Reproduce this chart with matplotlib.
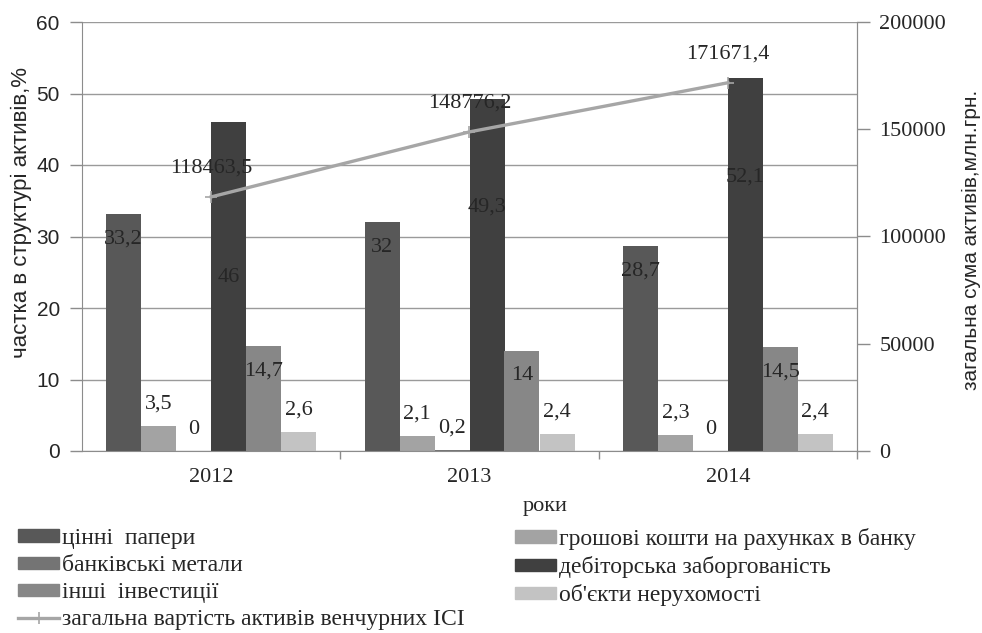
import matplotlib
matplotlib.use("Agg")
import matplotlib.pyplot as plt
import numpy as np
from matplotlib.patches import Patch
from matplotlib.lines import Line2D

years = ["2012", "2013", "2014"]
series_names = ["цінні  папери", "грошові кошти на рахунках в банку", "банківські метали",
                "дебіторська заборгованість", "інші  інвестиції", "об'єкти нерухомості"]
securities = [33.2, 32, 28.7]
cash = [3.5, 2.1, 2.3]
metals = [0, 0.2, 0]
receivables = [46, 49.3, 52.1]
other_inv = [14.7, 14, 14.5]
real_estate = [2.6, 2.4, 2.4]
total_assets = [118463.5, 148776.2, 171671.4]
line_name = "загальна вартість активів венчурних ІСІ"
left_ticks = [0, 10, 20, 30, 40, 50, 60]
right_ticks = [0, 50000, 100000, 150000, 200000]

def fmt(v):
    s = ("%g" % v) if v != int(v) else str(int(v))
    return s.replace(".", ",")

series = [securities, cash, metals, receivables, other_inv, real_estate]
colors = ["#585858", "#a3a3a3", "#747474", "#404040", "#878787", "#c3c3c3"]

SERIF = "Liberation Serif"
SANS = "Liberation Sans"
TXT = "#262626"

fig = plt.figure(figsize=(9.82, 6.33), dpi=100)
W, H = 982, 633
L, R, T, B = 82, 857, 22, 451
ax = fig.add_axes([L / W, 1 - B / H, (R - L) / W, (B - T) / H])
ax2 = ax.twinx()

x = np.arange(len(years))
bw = 35 / ((R - L) / 3)
for i, (vals, c) in enumerate(zip(series, colors)):
    offs = (i - 2.5) * bw
    ax.bar(x + offs, vals, width=bw, color=c, zorder=2, linewidth=0)

# data labels (pixel offsets from bar top)
for i, vals in enumerate(series):
    offs = (i - 2.5) * bw
    for j, v in enumerate(vals):
        if i == 3:
            dy = [-155, -109, -99][j]
        elif v > 10:
            dy = -25
        else:
            dy = 22
        ax.annotate(fmt(v), (x[j] + offs, v), xytext=(0, dy), textcoords="offset pixels",
                    ha="center", va="center", fontsize=16, family=SERIF, color=TXT, zorder=5)

ax.set_xlim(-0.5, 2.5)
ax.set_ylim(0, 60)
ax.set_yticks(left_ticks)
ax.set_yticklabels([str(t) for t in left_ticks], family=SANS, fontsize=15, color=TXT)
ax.set_xticks(x)
ax.set_xticklabels(years, family=SERIF, fontsize=16, color=TXT)
ax.set_xticks([0.5, 1.5, 2.5], minor=True)
ax.tick_params(axis="x", which="major", length=0, pad=12)
ax.tick_params(axis="x", which="minor", length=6, width=1, color="#8c8c8c", direction="out")
ax.tick_params(axis="y", length=9, width=1, color="#8c8c8c", pad=7)
ax.grid(axis="y", color="#9a9a9a", linewidth=1, zorder=0)
ax.set_axisbelow(True)
ax.spines["top"].set_visible(False)
for s in ["left", "bottom", "right"]:
    ax.spines[s].set_color("#8c8c8c")

ax2.plot(x, total_assets, color="#a6a6a6", linewidth=2.4, marker="+", markersize=9,
         markeredgewidth=1.2, zorder=4)
for j, v in enumerate(total_assets):
    ax2.annotate(("%.1f" % v).replace(".", ","), (x[j], v), xytext=(0, 29), textcoords="offset pixels",
                 ha="center", va="center", fontsize=16, family=SERIF, color=TXT)
ax2.set_ylim(0, 200000)
ax2.set_yticks(right_ticks)
ax2.set_yticklabels([str(t) for t in right_ticks], family=SERIF, fontsize=16, color=TXT)
ax2.tick_params(axis="y", length=9, width=1, color="#8c8c8c", pad=7)
for s in ["top", "left", "bottom"]:
    ax2.spines[s].set_visible(False)
ax2.spines["right"].set_color("#8c8c8c")

fig.text(21 / W, 1 - 213 / H, "частка в структурі активів,%", rotation=90, ha="center", va="center",
         family=SANS, fontsize=16, color=TXT)
fig.text(971 / W, 1 - 240 / H, "загальна сума активів,млн.грн.", rotation=90, ha="center", va="center",
         family=SANS, fontsize=15, color=TXT)
fig.text(545 / W, 1 - 507 / H, "роки", ha="center", va="center", family=SERIF, fontsize=16, color=TXT)

# legend: two columns, row-major order as in reference
h = [Patch(color=c) for c in colors]
hl = Line2D([], [], color="#a6a6a6", linewidth=2.4, marker="+", markersize=9, markeredgewidth=1.2)
col1_h = [h[0], h[2], h[4], hl]
col1_l = [series_names[0], series_names[2], series_names[4], line_name]
col2_h = [h[1], h[3], h[5]]
col2_l = [series_names[1], series_names[3], series_names[5]]
common = dict(loc="upper left", frameon=False, borderpad=0, borderaxespad=0, handlelength=1.75,
              handleheight=0.42, handletextpad=0.1, labelspacing=0.26,
              prop={"family": SERIF, "size": 17})
leg1 = fig.legend(col1_h, col1_l, bbox_to_anchor=(18 / W, 1 - 528 / H), **common)
leg2 = fig.legend(col2_h, col2_l, bbox_to_anchor=(515 / W, 1 - 528 / H), **common)
for lg in (leg1, leg2):
    for t in lg.get_texts():
        t.set_color(TXT)

fig.savefig("out.png", dpi=100)
